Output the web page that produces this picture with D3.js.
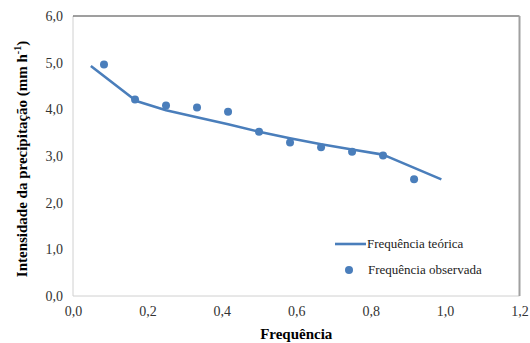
<!DOCTYPE html>
<html>
<head>
<meta charset="utf-8">
<script src="https://cdn.jsdelivr.net/npm/d3@7"></script>
<style>
  body { margin: 0; background: #fff; }
</style>
</head>
<body>
<div id="chart"></div>
<script>
// observed points (frequency, intensity)
const obsFreq = [0.0833, 0.1667, 0.25, 0.3333, 0.4167, 0.5, 0.5833, 0.6667, 0.75, 0.8333, 0.9167];
const obsInt = [4.96, 4.21, 4.08, 4.04, 3.95, 3.52, 3.29, 3.19, 3.09, 3.01, 2.50];

// theoretical curve
const teoFreq = [0.048, 0.17, 0.25, 0.333, 0.417, 0.5, 0.583, 0.667, 0.75, 0.833, 0.99];
const teoInt = [4.93, 4.18, 3.98, 3.83, 3.68, 3.52, 3.38, 3.25, 3.14, 3.03, 2.50];

const xTicks = [0, 0.2, 0.4, 0.6, 0.8, 1.0, 1.2];
const yTicks = [0, 1, 2, 3, 4, 5, 6];

const width = 530, height = 343;
const margin = {top: 16, right: 10, bottom: 47, left: 73};
const blue = "#4a7ebb";
const serif = "\"Liberation Serif\"";
const fmt = d => d3.format(".1f")(d).replace(".", ",");

const svg = d3.select("#chart").append("svg")
  .attr("width", width)
  .attr("height", height);

const x = d3.scaleLinear().domain([0, 1.2]).range([margin.left, width - margin.right - 0.5]);
const y = d3.scaleLinear().domain([0, 6]).range([height - margin.bottom, margin.top]);

// frame
const fr = svg.append("g");
fr.append("line").attr("x1", x(0)).attr("x2", x(0)).attr("y1", y(6)).attr("y2", y(0))
  .attr("stroke", "#d0d0d0").attr("stroke-width", 1);
fr.append("line").attr("x1", x(0)).attr("x2", x(1.2)).attr("y1", y(0)).attr("y2", y(0))
  .attr("stroke", "#d0d0d0").attr("stroke-width", 1);
fr.append("line").attr("x1", x(0)).attr("x2", x(1.2)).attr("y1", y(6)).attr("y2", y(6))
  .attr("stroke", "#404040").attr("stroke-width", 1.2);
fr.append("line").attr("x1", x(1.2)).attr("x2", x(1.2)).attr("y1", y(6)).attr("y2", y(0))
  .attr("stroke", "#a0a0a0").attr("stroke-width", 2);

// axes
const xAxis = g => g
  .attr("transform", `translate(0, ${y(0)})`)
  .call(d3.axisBottom(x).tickValues(xTicks).tickFormat(fmt).tickSize(0).tickPadding(10))
  .call(g => g.select(".domain").remove())
  .call(g => g.selectAll("text").attr("font-size", 14).attr("fill", "#333")
    .style("font-family", serif));

const yAxis = g => g
  .attr("transform", `translate(${x(0)}, 0)`)
  .call(d3.axisLeft(y).tickValues(yTicks).tickFormat(fmt).tickSize(0).tickPadding(10))
  .call(g => g.select(".domain").remove())
  .call(g => g.selectAll("text").attr("font-size", 14).attr("fill", "#333")
    .style("font-family", serif));

svg.append("g").call(xAxis);
svg.append("g").call(yAxis);

// theoretical line
const teo = teoFreq.map((f, i) => ({f, v: teoInt[i]}));
svg.append("path")
  .datum(teo)
  .attr("fill", "none")
  .attr("stroke", blue)
  .attr("stroke-width", 2.6)
  .attr("stroke-linejoin", "round")
  .attr("d", d3.line().x(d => x(d.f)).y(d => y(d.v)));

// observed points
const obs = obsFreq.map((f, i) => ({f, v: obsInt[i]}));
svg.append("g")
  .attr("fill", blue)
  .selectAll("circle")
  .data(obs)
  .join("circle")
  .attr("cx", d => x(d.f))
  .attr("cy", d => y(d.v))
  .attr("r", 4);

// titles
svg.append("text")
  .attr("x", (x(0) + x(1.2)) / 2)
  .attr("y", 339)
  .attr("text-anchor", "middle")
  .attr("font-size", 15)
  .attr("font-weight", "bold")
  .style("font-family", serif)
  .text("Frequência");

const yt = svg.append("text")
  .attr("transform", "translate(27, 159) rotate(-90)")
  .attr("text-anchor", "middle")
  .attr("font-size", 15)
  .attr("font-weight", "bold")
  .style("font-family", serif);
yt.append("tspan").text("Intensidade da precipitação (mm h");
yt.append("tspan").attr("dy", -6).attr("font-size", 10).text("-1");
yt.append("tspan").attr("dy", 6).text(")");

// legend
const lg = svg.append("g");
lg.append("line").attr("x1", 335).attr("x2", 366).attr("y1", 244).attr("y2", 244)
  .attr("stroke", blue).attr("stroke-width", 2.6);
lg.append("circle").attr("cx", 349).attr("cy", 270).attr("r", 4).attr("fill", blue);
lg.append("text").attr("x", 367).attr("y", 248).attr("font-size", 13).attr("fill", "#222")
  .style("font-family", serif).text("Frequência teórica");
lg.append("text").attr("x", 368).attr("y", 274).attr("font-size", 13).attr("fill", "#222")
  .style("font-family", serif).text("Frequência observada");
</script>
</body>
</html>
